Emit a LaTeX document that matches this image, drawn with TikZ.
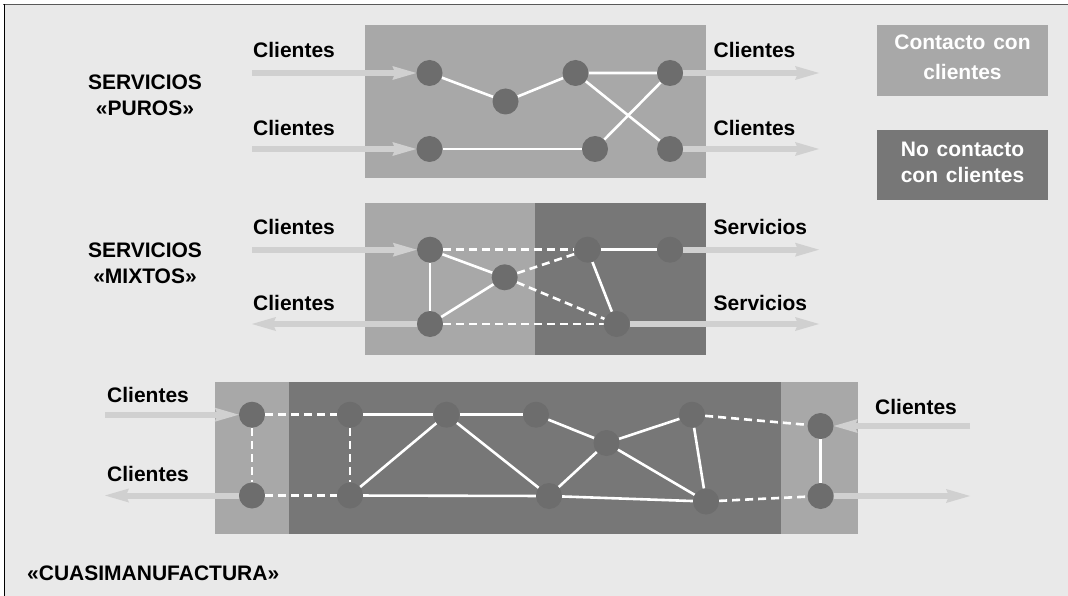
\documentclass[tikz,border=0pt]{standalone}
\usepackage{fontspec}
\setmainfont{Liberation Sans}
\usetikzlibrary{arrows.meta}
\pgfdeclarelayer{back}
\pgfdeclarelayer{bg}
\pgfdeclarelayer{edges}
\pgfsetlayers{back,bg,edges,main}
\definecolor{bgc}{HTML}{E9E9E9}
\definecolor{pl}{HTML}{A8A8A8}
\definecolor{pd}{HTML}{777777}
\definecolor{dotc}{HTML}{6D6D6D}
\definecolor{arc}{HTML}{D0D0D0}
\begin{document}
\begin{tikzpicture}[x=1pt,y=-1pt,
  dot/.style={circle,fill=dotc,minimum size=26pt,inner sep=0pt},
  edge/.style={draw=white,line width=2.6pt},
  dsh/.style={edge,dash pattern=on 8pt off 5pt},
  arr/.style={draw=arc,line width=6pt,-{Stealth[length=24pt,width=14pt,inset=3pt,line width=0pt]}},
  lbl/.style={font=\bfseries\fontsize{21}{25.5}\selectfont,inner sep=0pt,text=black},
  leg/.style={font=\bfseries\fontsize{21}{25.5}\selectfont,inner sep=0pt,text=white,align=center},
  pnl/.style={fill=pl,draw=none},
  pnd/.style={fill=pd,draw=none}]
\useasboundingbox (0,0) rectangle (1068,596);
\begin{pgfonlayer}{back}
\fill[white] (0,0) rectangle (1068,596);
\fill[bgc] (4,4) rectangle (1068,596);
\draw[color=black!65,line width=1.4pt] (3.3,4.3) -- (1068,4.3);
\draw[black,line width=1.6pt] (4.3,4.3) -- (4.3,596);
\end{pgfonlayer}

% panels
\begin{pgfonlayer}{bg}
\fill[pnl] (365,25.5) rectangle (706,178);
\fill[pnl] (365,203.3) rectangle (535,355);
\fill[pnd] (535,203.3) rectangle (706,355);
\fill[pnl] (214.5,381.7) rectangle (289,533.7);
\fill[pnd] (289,381.7) rectangle (781,533.7);
\fill[pnl] (781,381.7) rectangle (858,533.7);
\end{pgfonlayer}

% legend
\node[fill=pl,minimum width=171pt,minimum height=70.2pt,inner sep=0pt] (leg1) at (962.5,60.6) {};
\node[fill=pd,minimum width=171pt,minimum height=70pt,inner sep=0pt] (leg2) at (962.5,165) {};
\node[leg] (leg1t) at (962.5,57.3) {Contacto\hspace{8pt}con\\[5.2pt]clientes};
\node[leg] (leg2t) at (962.5,162.6) {No\hspace{2pt} contacto\\con\hspace{2pt} clientes};

% left titles
\node[lbl,align=center] (puros) at (145,95.2) {SERVICIOS\\«PUROS»};
\node[lbl,align=center] (mixtos) at (145,263.3) {SERVICIOS\\«MIXTOS»};
\node[lbl,anchor=base west] (cuasi) at (27,580) {«CUASIMANUFACTURA»};

% ---------- top panel ----------
\node[dot] (n1) at (429.5,73) {};
\node[dot] (n2) at (505.5,101.5) {};
\node[dot] (n3) at (575.5,73) {};
\node[dot] (n4) at (670,73) {};
\node[dot] (n5) at (429.5,149) {};
\node[dot] (n6) at (595,149) {};
\node[dot] (n7) at (670,149) {};
\coordinate (ta1) at (252,73);
\coordinate (ta2) at (252,149);
\coordinate (ta3) at (819,73);
\coordinate (ta4) at (819,149);
\node[lbl,anchor=base west] (tl1) at (253,57.9) {Clientes};
\node[lbl,anchor=base west] (tl2) at (253,136) {Clientes};
\node[lbl,anchor=base west] (tl3) at (713.5,57.9) {Clientes};
\node[lbl,anchor=base west] (tl4) at (713.5,136) {Clientes};
\begin{pgfonlayer}{edges}
\draw[arr] (ta1) -- (n1);
\draw[arr] (ta2) -- (n5);
\draw[arr] (n4) -- (ta3);
\draw[arr] (n7) -- (ta4);
\draw[edge] (n1) -- (n2) -- (n3) -- (n4);
\draw[edge] (n3) -- (n7);
\draw[edge] (n6) -- (n4);
\draw[edge] (n5) -- (n6);
\end{pgfonlayer}

% ---------- middle panel ----------
\node[dot] (mA) at (430,249.7) {};
\node[dot] (mB) at (504.7,277.3) {};
\node[dot] (mC) at (587.6,249.7) {};
\node[dot] (mD) at (670,249.7) {};
\node[dot] (mE) at (430,324) {};
\node[dot] (mF) at (616.7,324) {};
\coordinate (ma1) at (252,249.7);
\coordinate (ma2) at (252,324);
\coordinate (ma3) at (819,249.7);
\coordinate (ma4) at (819,324);
\node[lbl,anchor=base west] (ml1) at (253,235) {Clientes};
\node[lbl,anchor=base west] (ml2) at (253,310) {Clientes};
\node[lbl,anchor=base west] (ml3) at (713.5,235) {Servicios};
\node[lbl,anchor=base west] (ml4) at (713.5,310) {Servicios};
\begin{pgfonlayer}{edges}
\draw[arr] (ma1) -- (mA);
\draw[arr] (mE) -- (ma2);
\draw[arr] (mD) -- (ma3);
\draw[arr] (mF) -- (ma4);
\draw[dsh] (mA) -- (mC);
\draw[edge] (mA) -- (mB);
\draw[edge] (mA) -- (mE);
\draw[dsh] (mB) -- (mC);
\draw[edge] (mB) -- (mE);
\draw[dsh] (mB) -- (mF);
\draw[edge] (mC) -- (mD);
\draw[edge] (mC) -- (mF);
\draw[dsh] (mE) -- (mF);
\end{pgfonlayer}

% ---------- bottom panel ----------
\node[dot] (bP1) at (252,414.7) {};
\node[dot] (bP2) at (252,495.5) {};
\node[dot] (bQ1) at (350,414.7) {};
\node[dot] (bQ2) at (350,495.5) {};
\node[dot] (bR) at (446.5,414.7) {};
\node[dot] (bS) at (536,414.7) {};
\node[dot] (bT) at (606.5,443) {};
\node[dot] (bU) at (692,414.7) {};
\node[dot] (bW) at (549,496) {};
\node[dot] (bV) at (706,501.5) {};
\node[dot] (bX1) at (820.5,426) {};
\node[dot] (bX2) at (820.5,496) {};
\coordinate (ba1) at (105,414.7);
\coordinate (ba2) at (105,495.5);
\coordinate (ba3) at (970,426);
\coordinate (ba4) at (970,496);
\node[lbl,anchor=base west] (bl1) at (107,402) {Clientes};
\node[lbl,anchor=base west] (bl2) at (107,481) {Clientes};
\node[lbl,anchor=base west] (bl3) at (875,414) {Clientes};
\begin{pgfonlayer}{edges}
\draw[arr] (ba1) -- (bP1);
\draw[arr] (bP2) -- (ba2);
\draw[arr] (ba3) -- (bX1);
\draw[arr] (bX2) -- (ba4);
\draw[dsh] (bP1) -- (bQ1);
\draw[dsh] (bP1) -- (bP2);
\draw[dsh] (bP2) -- (bQ2);
\draw[dsh] (bQ1) -- (bQ2);
\draw[edge] (bQ1) -- (bR);
\draw[edge] (bR) -- (bS);
\draw[edge] (bQ2) -- (bR);
\draw[edge] (bR) -- (bW);
\draw[edge] (bQ2) -- (bW);
\draw[edge] (bS) -- (bT);
\draw[edge] (bT) -- (bU);
\draw[edge] (bT) -- (bW);
\draw[edge] (bT) -- (bV);
\draw[edge] (bU) -- (bV);
\draw[edge] (bW) -- (bV);
\draw[dsh] (bU) -- (bX1);
\draw[dsh] (bV) -- (bX2);
\draw[edge] (bX1) -- (bX2);
\end{pgfonlayer}
\end{tikzpicture}
\end{document}
